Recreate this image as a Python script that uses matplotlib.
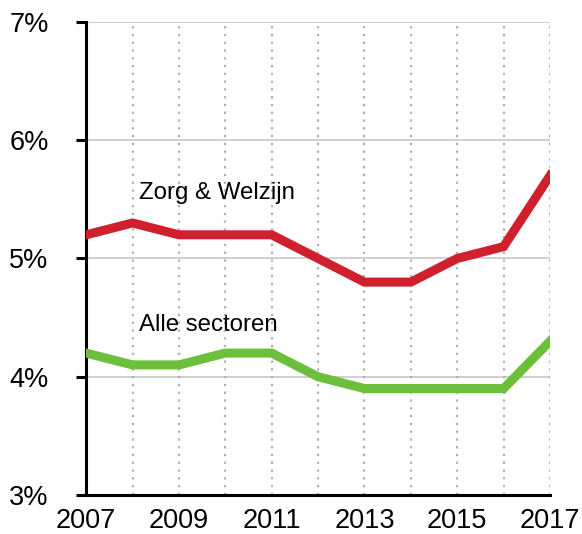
import matplotlib.pyplot as plt
from matplotlib.ticker import FuncFormatter

plt.rcParams['font.family'] = ['Liberation Sans', 'DejaVu Sans']

years = [2007, 2008, 2009, 2010, 2011, 2012, 2013, 2014, 2015, 2016, 2017]
zorg = [5.2, 5.3, 5.2, 5.2, 5.2, 5.0, 4.8, 4.8, 5.0, 5.1, 5.7]
alle = [4.2, 4.1, 4.1, 4.2, 4.2, 4.0, 3.9, 3.9, 3.9, 3.9, 4.3]
xticks = [2007, 2009, 2011, 2013, 2015, 2017]
yticks = [3, 4, 5, 6, 7]

fig = plt.figure(figsize=(5.82, 5.34), dpi=100)
ax = fig.add_axes([0.148, 0.073, 0.797, 0.886])

# grid
for y in yticks[1:]:
    ax.axhline(y, color='#c8c8c8', lw=1.2, zorder=1)
for x in years[1:]:
    ax.axvline(x, color='#b0b0b0', lw=1.6, ls=(0, (1, 2.5)), zorder=1)

ax.plot(years, zorg, color='#d0202e', lw=6.5, solid_joinstyle='miter', zorder=3)
ax.plot(years, alle, color='#6cbf3a', lw=6.5, solid_joinstyle='miter', zorder=3)

ax.text(2008.15, 5.55, 'Zorg & Welzijn', fontsize=17.3, va='center', ha='left')
ax.text(2008.15, 4.44, 'Alle sectoren', fontsize=17.3, va='center', ha='left')

ax.set_xlim(2007, 2017)
ax.set_ylim(3, 7)
ax.set_xticks(xticks)
ax.set_yticks(yticks)
ax.yaxis.set_major_formatter(FuncFormatter(lambda v, p: '%d%%' % v))
ax.tick_params(axis='x', length=0, pad=9, labelsize=19.5)
ax.tick_params(axis='y', length=7, width=2.2, pad=20, labelsize=19.5)

for s in ['top', 'right']:
    ax.spines[s].set_visible(False)
ax.spines['left'].set_linewidth(2.2)
ax.spines['bottom'].set_linewidth(2.2)

fig.savefig('out.png', dpi=100)
